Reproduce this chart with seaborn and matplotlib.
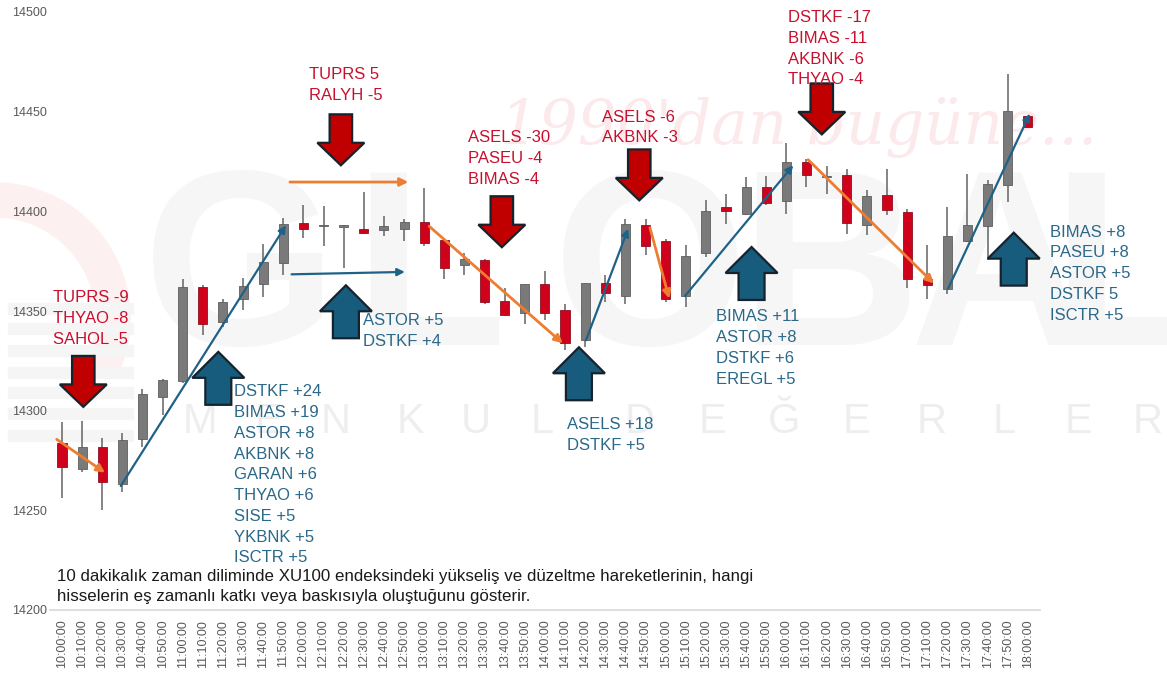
import pandas as pd
import matplotlib.pyplot as plt
import matplotlib.patches as mpatches
from matplotlib.transforms import IdentityTransform
import seaborn as sns

# 10-minute XU100 candles, 10:00 -> 18:00
times = [f"{h:02d}:{m:02d}:00" for h in range(10, 18) for m in range(0, 60, 10)] + ["18:00:00"]
opens = [14284, 14270.5, 14282, 14263, 14286, 14307, 14315, 14362, 14344.5, 14356,
         14363.3, 14374, 14394, 14392.4, 14392.3, 14391, 14390.5, 14391, 14394.7, 14385.8,
         14373, 14375.4, 14355, 14349, 14363.3, 14350.7, 14335.3, 14363.8, 14357.6, 14393,
         14385, 14357.6, 14379.3, 14402.2, 14398.8, 14412, 14405.2, 14424.7, 14417.1, 14418,
         14393.3, 14408, 14399.7, 14366, 14360.8, 14385, 14392.6, 14413.4, 14447.6]
closes = [14271.5, 14282, 14264, 14285.2, 14308.6, 14315.3, 14362, 14343.7, 14354.5, 14362.4,
          14374.6, 14393.8, 14391, 14392.8, 14392.6, 14389.1, 14392.6, 14394.7, 14384.3, 14371.8,
          14376, 14354.5, 14347.9, 14363.4, 14349.2, 14333.7, 14363.8, 14358.8, 14393.8, 14382.5,
          14356.2, 14377.4, 14400, 14400.2, 14412.2, 14404.4, 14424.7, 14418, 14417.3, 14394.3,
          14407.5, 14400.5, 14366, 14362.9, 14387.6, 14393.3, 14413.5, 14450.1, 14442.3]
highs = [14294.1, 14294.9, 14286.4, 14288.9, 14311, 14316, 14366.3, 14363, 14356.2, 14366.6,
         14383.8, 14396.6, 14403.4, 14402.7, 14393, 14409.7, 14397.6, 14396, 14411.9, 14386,
         14379.3, 14376, 14361.7, 14363.4, 14370, 14353.7, 14363.8, 14368, 14396, 14396,
         14386.3, 14383, 14405.5, 14408.8, 14417.2, 14417.5, 14434.5, 14426.4, 14422.6, 14421,
         14410.9, 14421, 14401, 14383, 14402.2, 14418.9, 14415.5, 14468.7, 14448]
lows = [14256, 14269, 14250.1, 14259.3, 14282, 14298, 14313.8, 14337.8, 14342, 14350.4,
        14357, 14368, 14386.6, 14382.6, 14371.8, 14388.5, 14387.5, 14384.9, 14382.6, 14366.3,
        14368, 14353.7, 14347.5, 14343.7, 14345.4, 14330.3, 14332, 14354.5, 14353.7, 14378,
        14354.5, 14352, 14377, 14393.8, 14398, 14403, 14398.5, 14412.2, 14408.6, 14388.8,
        14388, 14398, 14361.3, 14356.2, 14358.7, 14384.7, 14375.4, 14404.7, 14442]
y_ticks = [14200, 14250, 14300, 14350, 14400, 14450, 14500]

# stock contributions (negative = pressure, positive = support)
red_groups = [
    (["TUPRS -9", "THYAO -8", "SAHOL -5"], (-0.46, 14356.6), (1.06, 14301.9)),
    (["TUPRS 5", "RALYH -5"], (12.29, 14468.7), (13.86, 14423.1)),
    (["ASELS -30", "PASEU -4", "BIMAS -4"], (20.19, 14436.9), (21.86, 14382.0)),
    (["ASELS -6", "AKBNK -3"], (26.82, 14447.3), (28.69, 14405.5)),
    (["DSTKF -17", "BIMAS -11", "AKBNK -6", "THYAO -4"], (36.08, 14497.2), (37.76, 14438.6)),
]
blue_groups = [
    (["DSTKF +24", "BIMAS +19", "ASTOR +8", "AKBNK +8", "GARAN +6", "THYAO +6",
      "SISE +5", "YKBNK +5", "ISCTR +5"], (8.55, 14309.4), (7.77, 14329.5)),
    (["ASTOR +5", "DSTKF +4"], (14.94, 14345.0), (14.11, 14362.9)),
    (["ASELS +18", "DSTKF +5"], (25.09, 14293.0), (25.69, 14331.8)),
    (["BIMAS +11", "ASTOR +8", "DSTKF +6", "EREGL +5"], (32.5, 14347.0), (34.27, 14382.1)),
    (["BIMAS +8", "PASEU +8", "ASTOR +5", "DSTKF 5", "ISCTR +5"], (49.09, 14389.5), (47.30, 14389.3)),
]
# trend moves (start -> end)
down_moves = [((-0.26, 14285.6), (2.14, 14268.9)), ((11.33, 14414.7), (17.21, 14414.7)),
              ((18.25, 14392.5), (24.89, 14333.8)), ((29.22, 14391.8), (30.18, 14356.2)),
              ((37.08, 14425.9), (43.33, 14363.8))]
up_moves = [((2.92, 14262.2), (11.13, 14393.0)), ((11.41, 14368.4), (17.04, 14369.6)),
            ((26.04, 14335.3), (28.14, 14391.3)), ((30.96, 14357.5), (36.34, 14423.1)),
            ((44.04, 14361.3), (48.1, 14449.0))]

note_lines = ["10 dakikalık zaman diliminde XU100 endeksindeki yükseliş ve düzeltme hareketlerinin, hangi",
              "hisselerin eş zamanlı katkı veya baskısıyla oluştuğunu gösterir."]

df = pd.DataFrame({"time": times, "open": opens, "close": closes, "high": highs, "low": lows})
df["x"] = range(len(df))
df["up"] = df["close"] >= df["open"]

sns.set_theme(style="white")
plt.rcParams['font.family'] = ['Liberation Sans', 'DejaVu Sans']

W, H = 1167, 673
fig = plt.figure(figsize=(W / 100, H / 100), dpi=100)
ax = fig.add_axes([49.9 / W, 63 / H, 990 / W, 598 / H])
ax.patch.set_alpha(0)

# faint watermark behind the chart
def fxy(px, py):
    return px / W, 1 - py / H

wedge = mpatches.Wedge((-5, H - 318), 135, -25, 95, width=34, color="#FDF0F1",
                       transform=IdentityTransform(), zorder=-5)
fig.add_artist(wedge)
for top in [303, 323, 345, 367, 387, 408, 430]:
    fig.add_artist(mpatches.Rectangle(fxy(8, top + 11), 125 / W, 11 / H, color="#F5F5F5",
                                      transform=fig.transFigure, zorder=-5))
for ch, cx in zip("GLOBAL", [240, 430, 650, 830, 1000, 1128]):
    fig.text(*fxy(cx, 280), ch, fontsize=180, fontweight="bold", color="#F6F6F6",
             ha="center", va="center", zorder=-4)
for ch, cx in zip("MENKUL", [200, 268, 336, 410, 476, 542]):
    fig.text(*fxy(cx, 422), ch, fontsize=30, color="#EEEEEE", ha="center", va="center", zorder=-4)
for ch, cx in zip("DEĞERLER", [640, 712, 784, 856, 932, 1004, 1078, 1148]):
    fig.text(*fxy(cx, 422), ch, fontsize=30, color="#EEEEEE", ha="center", va="center", zorder=-4)
fig.text(*fxy(500, 128), "1990'dan bugüne...", fontsize=44, fontstyle="italic",
         family="DejaVu Serif", color="#FCE9EC", ha="left", va="center", zorder=-4)

# candles
ax.vlines(df["x"], df["low"], df["high"], color="#6F6F6F", lw=1.2, zorder=2)
body_low = df[["open", "close"]].min(axis=1)
body_h = (df["close"] - df["open"]).abs().clip(lower=0.7)
colors = ["#7A7A7A" if u else "#D0021B" for u in df["up"]]
edges = ["#5E5E5E" if u else "#8E1020" for u in df["up"]]
ax.bar(df["x"], body_h, bottom=body_low, width=0.45, color=colors, edgecolor=edges,
       linewidth=0.6, zorder=3)

ax.set_xlim(-0.6, 48.6)
ax.set_ylim(14200, 14500)
ax.set_xticks(df["x"])
ax.set_xticklabels(times, rotation=90, fontsize=9, color="#595959")
ax.set_yticks(y_ticks)
ax.set_yticklabels([str(v) for v in y_ticks], fontsize=9, color="#595959")
ax.tick_params(axis="both", length=0)
ax.tick_params(axis="x", pad=7)
ax.tick_params(axis="y", pad=2)
sns.despine(ax=ax, left=True)
ax.spines["bottom"].set_color("#D9D9D9")
ax.set_xlabel("")
ax.set_ylabel("")

# trend arrows
for (x0, y0), (x1, y1) in down_moves:
    ax.annotate("", xy=(x1, y1), xytext=(x0, y0), zorder=4,
                arrowprops=dict(arrowstyle="-|>", color="#ED7D31", lw=2.0,
                                mutation_scale=12, shrinkA=0, shrinkB=0))
for (x0, y0), (x1, y1) in up_moves:
    ax.annotate("", xy=(x1, y1), xytext=(x0, y0), zorder=4,
                arrowprops=dict(arrowstyle="-|>", color="#1F6288", lw=1.6,
                                mutation_scale=11, shrinkA=0, shrinkB=0))

# block arrows, sizes in pixels -> data units
PX_X, PX_Y = 20.125, 1.995

def block_arrow(x, y, down, fill, total, head, sw, hw):
    s = 1 if down else -1
    t, hl = total / PX_Y * s, head / PX_Y * s
    sw, hw = sw / PX_X / 2, hw / PX_X / 2
    pts = [(x - sw, y + t), (x + sw, y + t), (x + sw, y + hl), (x + hw, y + hl),
           (x, y), (x - hw, y + hl), (x - sw, y + hl)]
    ax.add_patch(mpatches.Polygon(pts, closed=True, facecolor=fill, edgecolor="#16232D",
                                  lw=1.6, zorder=5, clip_on=False))

def label_lines(lines, x, y, color):
    for k, s in enumerate(lines):
        ax.text(x, y - k * 10.4, s, color=color, fontsize=12, ha="left", va="center",
                zorder=6, clip_on=False)

for lines, (tx, ty), (ax_, ay) in red_groups:
    label_lines(lines, tx, ty, "#C8102E")
    block_arrow(ax_, ay, True, "#C00000", 51, 22.5, 22.5, 47)
for lines, (tx, ty), (ax_, ay) in blue_groups:
    label_lines(lines, tx, ty, "#2A6889")
    block_arrow(ax_, ay, False, "#175B7D", 53, 26, 26, 52)

for k, line in enumerate(note_lines):
    fig.text(*fxy(57, 576 + k * 21), line, fontsize=12.2, color="#1A1A1A",
             ha="left", va="center")

fig.savefig("out.png", dpi=100)
